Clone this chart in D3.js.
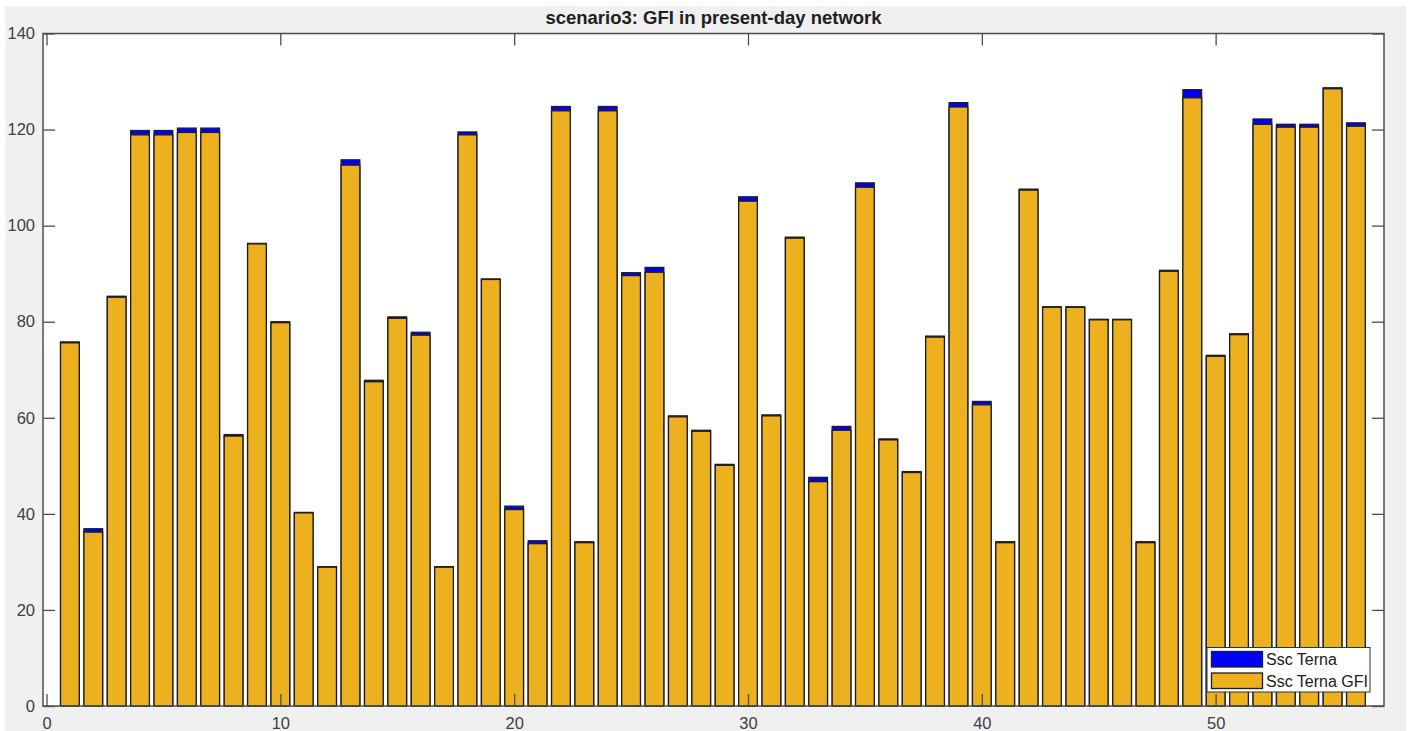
<!DOCTYPE html>
<html>
<head>
<meta charset="utf-8">
<script src="https://cdn.jsdelivr.net/npm/d3@7"></script>
<style>
  html, body { margin: 0; padding: 0; background: #ffffff; }
  svg { display: block; }
  text { font-family: "Liberation Sans", Arial, Helvetica, sans-serif; }
</style>
</head>
<body>
<svg id="chart" width="1410" height="731"></svg>
<script>
// Bus indices 1..56
const buses = d3.range(1, 57);

// Short-circuit power per bus (Ssc Terna) and with GFI contribution
const sscTerna = [
  75.8, 36.9, 85.3, 119.8, 119.8, 120.3, 120.3, 56.5, 96.3, 80.0,
  40.3, 29.0, 113.7, 67.8, 81.0, 77.8, 29.0, 119.5, 88.9, 41.6,
  34.4, 124.8, 34.2, 124.8, 90.2, 91.3, 60.4, 57.4, 50.3, 106.0,
  60.6, 97.6, 47.6, 58.2, 108.9, 55.6, 48.8, 77.0, 125.6, 63.4,
  34.2, 107.6, 83.1, 83.1, 80.5, 80.5, 34.2, 90.7, 128.3, 73.0,
  77.5, 122.2, 121.1, 121.1, 128.7, 121.4
];
const sscTernaGFI = [
  75.6, 36.2, 85.1, 118.9, 118.9, 119.4, 119.4, 56.2, 96.2, 79.8,
  40.2, 28.9, 112.6, 67.5, 80.7, 77.2, 28.9, 118.9, 88.8, 40.9,
  33.8, 123.9, 34.0, 123.9, 89.6, 90.3, 60.2, 57.2, 50.1, 105.1,
  60.4, 97.4, 46.7, 57.4, 108.0, 55.4, 48.6, 76.8, 124.7, 62.7,
  34.0, 107.4, 83.0, 83.0, 80.4, 80.4, 34.0, 90.5, 126.6, 72.8,
  77.3, 121.1, 120.5, 120.5, 128.5, 120.7
];

const xTicks = [0, 10, 20, 30, 40, 50];
const yTicks = [0, 20, 40, 60, 80, 100, 120, 140];
const seriesNames = ["Ssc Terna", "Ssc Terna GFI"];
const seriesColors = ["#0000ff", "#edb120"];
const titleText = "scenario3: GFI in present-day network";

const svg = d3.select("#chart");
const W = 1410, H = 731;
const plot = { left: 43, right: 1384, top: 33.5, bottom: 706 };

// figure background
svg.append("rect").attr("x", 5).attr("y", 6).attr("width", W - 9).attr("height", H - 6)
  .attr("fill", "#f0f0f0");

const x = d3.scaleLinear().domain([-0.15, 57.2]).range([plot.left, plot.right]);
const y = d3.scaleLinear().domain([0, 140]).range([plot.bottom, plot.top]);
const barW = x(0.8) - x(0);

// axes background
svg.append("rect")
  .attr("x", plot.left).attr("y", plot.top)
  .attr("width", plot.right - plot.left).attr("height", plot.bottom - plot.top)
  .attr("fill", "#ffffff");

// bars: Ssc Terna behind, GFI in front
const series = [sscTerna, sscTernaGFI];
series.forEach((vals, si) => {
  svg.append("g").selectAll("rect").data(buses).join("rect")
    .attr("x", d => x(d) - barW / 2)
    .attr("y", (d, i) => y(vals[i]))
    .attr("width", barW)
    .attr("height", (d, i) => y(0) - y(vals[i]))
    .attr("fill", seriesColors[si])
    .attr("stroke", "#1e1e1e")
    .attr("stroke-width", 1.3);
});

// axes with inward ticks on all four sides
const axisColor = "#4d4d4d";
const labelColor = "#404040";
function styleAxis(g) {
  g.select(".domain").remove();
  g.selectAll(".tick line").attr("stroke", axisColor).attr("stroke-width", 1.3);
  g.selectAll(".tick text").attr("fill", labelColor).style("font-size", "16.5px");
}
svg.append("g").attr("transform", `translate(0,${plot.bottom})`)
  .call(d3.axisBottom(x).tickValues(xTicks).tickSizeInner(-12).tickSizeOuter(0).tickPadding(11))
  .call(styleAxis);
svg.append("g").attr("transform", `translate(0,${plot.top})`)
  .call(d3.axisTop(x).tickValues(xTicks).tickSizeInner(-12).tickSizeOuter(0).tickFormat(""))
  .call(styleAxis);
svg.append("g").attr("transform", `translate(${plot.left},0)`)
  .call(d3.axisLeft(y).tickValues(yTicks).tickSizeInner(-12).tickSizeOuter(0).tickPadding(8))
  .call(styleAxis);
svg.append("g").attr("transform", `translate(${plot.right},0)`)
  .call(d3.axisRight(y).tickValues(yTicks).tickSizeInner(-12).tickSizeOuter(0).tickFormat(""))
  .call(styleAxis);

// axes box
svg.append("rect")
  .attr("x", plot.left).attr("y", plot.top)
  .attr("width", plot.right - plot.left).attr("height", plot.bottom - plot.top)
  .attr("fill", "none").attr("stroke", axisColor).attr("stroke-width", 1.5);

// title
svg.append("text")
  .attr("x", (plot.left + plot.right) / 2).attr("y", 24)
  .attr("text-anchor", "middle")
  .attr("fill", "#202020")
  .style("font-size", "18.5px").style("font-weight", "bold")
  .text(titleText);

// legend
const lg = svg.append("g").attr("transform", "translate(1207,647.5)");
lg.append("rect").attr("width", 163).attr("height", 44.5)
  .attr("fill", "#ffffff").attr("stroke", "#333333").attr("stroke-width", 1);
seriesNames.forEach((name, i) => {
  const row = lg.append("g").attr("transform", `translate(4.5,${4 + i * 21.5})`);
  row.append("rect").attr("width", 51).attr("height", 15.5)
    .attr("fill", seriesColors[i]).attr("stroke", "#1e1e1e").attr("stroke-width", 1.3);
  row.append("text").attr("x", 54.5).attr("y", 13.8)
    .attr("fill", "#202020").style("font-size", "16px")
    .text(name);
});
</script>
</body>
</html>
